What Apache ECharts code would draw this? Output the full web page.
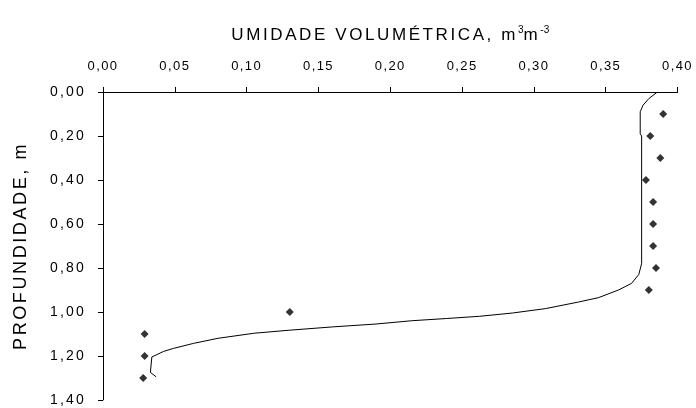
<!DOCTYPE html>
<html>
<head>
<meta charset="utf-8">
<script src="https://cdn.jsdelivr.net/npm/echarts@6/dist/echarts.min.js"></script>
<style>
  html, body { margin: 0; padding: 0; background: #fff; }
  #chart { width: 696px; height: 408px; }
</style>
</head>
<body>
<div id="chart"></div>
<script>
// Measured volumetric water content (m3/m3) at each depth (m)
const obsDepth = [0.10, 0.20, 0.30, 0.40, 0.50, 0.60, 0.70, 0.80, 0.90, 1.00, 1.10, 1.20, 1.30];
const obsTheta = [0.390, 0.381, 0.388, 0.378, 0.383, 0.383, 0.383, 0.385, 0.380, 0.130, 0.029, 0.029, 0.028];

// Simulated profile (fitted curve)
const simDepth = [0.00, 0.03, 0.06, 0.09, 0.19, 0.20, 0.78, 0.83, 0.87, 0.90, 0.935, 0.955, 0.985, 1.005, 1.02, 1.03, 1.04, 1.055, 1.068, 1.083, 1.097, 1.12, 1.143, 1.166, 1.18, 1.205, 1.275, 1.295];
const simTheta = [0.386, 0.380, 0.376, 0.374, 0.374, 0.375, 0.375, 0.373, 0.368, 0.359, 0.345, 0.331, 0.308, 0.285, 0.262, 0.239, 0.215, 0.190, 0.160, 0.130, 0.105, 0.080, 0.063, 0.049, 0.042, 0.034, 0.033, 0.037];

// Axis titles
const xTitle = 'UMIDADE VOLUMÉTRICA, m';
const yTitle = 'PROFUNDIDADE, m';

const FONT = 'Liberation Sans, Arial, sans-serif';
const fmt = v => v.toFixed(2).replace('.', ',');

// Wide-tracked lettering: letter spacing per font size, applied to every
// string drawn or measured on canvas so the layout stays consistent
const TRACKING = { 13: 1.4, 14: 2.2, 17: 2.6, 18: 2.6 };
function tracking(ctx) {
  const m = /(\d+)px/.exec(ctx.font || '');
  const px = m ? +m[1] : 0;
  return (TRACKING[px] || 0) + 'px';
}
const proto = CanvasRenderingContext2D.prototype;
const origFillText = proto.fillText;
const origMeasureText = proto.measureText;
proto.fillText = function () { this.letterSpacing = tracking(this); return origFillText.apply(this, arguments); };
proto.measureText = function () { this.letterSpacing = tracking(this); return origMeasureText.apply(this, arguments); };

const chart = echarts.init(document.getElementById('chart'), null, { renderer: 'canvas' });
chart.setOption({
  animation: false,
  backgroundColor: '#ffffff',
  grid: { left: 103, top: 92, width: 576, height: 308 },
  xAxis: {
    type: 'value',
    position: 'top',
    min: 0, max: 0.4, interval: 0.05,
    name: '{a|' + xTitle + '}{s|3}{a|m}{s|-3}',
    nameLocation: 'middle',
    nameGap: 46,
    nameTextStyle: {
      rich: {
        a: { fontFamily: FONT, fontSize: 17, color: '#000' },
        s: { fontFamily: FONT, fontSize: 10, color: '#000', padding: [0, 0, 11, 0] }
      }
    },
    axisLine: { show: true, lineStyle: { color: '#000', width: 1 } },
    axisTick: { show: true, inside: false, length: 5, lineStyle: { color: '#000' } },
    axisLabel: { formatter: fmt, fontFamily: FONT, fontSize: 13, color: '#000', margin: 18 },
    splitLine: { show: false }
  },
  yAxis: {
    type: 'value',
    inverse: true,
    min: 0, max: 1.4, interval: 0.2,
    name: yTitle,
    nameLocation: 'middle',
    nameGap: 72,
    nameRotate: 90,
    nameTextStyle: { fontFamily: FONT, fontSize: 18, color: '#000' },
    axisLine: { show: true, lineStyle: { color: '#000', width: 1 } },
    axisTick: { show: true, inside: false, length: 5, lineStyle: { color: '#000' } },
    axisLabel: { formatter: fmt, fontFamily: FONT, fontSize: 14, color: '#000', margin: 17 },
    splitLine: { show: false }
  },
  series: [
    {
      type: 'line',
      data: simTheta.map((t, i) => [t, simDepth[i]]),
      showSymbol: false,
      smooth: false,
      lineStyle: { color: '#000', width: 1 }
    },
    {
      type: 'scatter',
      data: obsTheta.map((t, i) => [t, obsDepth[i]]),
      symbol: 'diamond',
      symbolSize: 8,
      itemStyle: { color: '#000' }
    }
  ]
});
</script>
</body>
</html>
